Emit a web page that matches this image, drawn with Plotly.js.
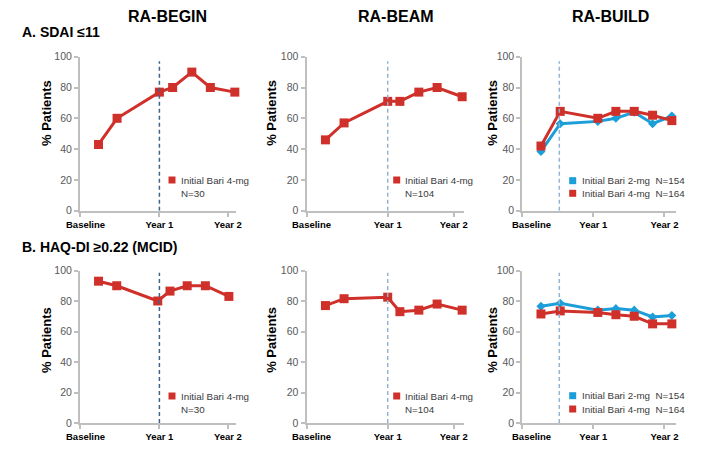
<!DOCTYPE html>
<html>
<head>
<meta charset="utf-8">
<script src="https://cdn.plot.ly/plotly-3.0.1.min.js"></script>
<style>html,body{margin:0;padding:0;background:#fff;}#chart{width:722px;height:467px;}</style>
</head>
<body>
<div id="chart"></div>
<script>
// ---- Data (x in approximate months from baseline) ----
const studies = ["RA-BEGIN", "RA-BEAM", "RA-BUILD"];
const sections = ["A. SDAI \u226411", "B. HAQ-DI \u22650.22 (MCID)"];
const xTickText = ["Baseline", "Year 1", "Year 2"];

const monthsBeginSdai = [2.8, 5.6, 12, 14, 16.9, 19.7, 23.4];
const monthsBeginHaq  = [2.8, 5.55, 11.75, 13.6, 16.2, 18.95, 22.5];
const monthsBeam      = [2.8, 5.55, 12, 13.8, 16.6, 19.3, 23.0];
const monthsBuild     = [3.15, 6.4, 12.75, 15.8, 18.9, 22.0, 25.25];

const beginSdai4mg = [43, 60, 77, 80, 90, 80, 77];
const beamSdai4mg  = [46, 57, 71, 71, 77, 80, 74];
const buildSdai2mg = [38.5, 56.5, 58, 60, 64, 56.5, 61.5];
const buildSdai4mg = [42, 64.5, 60, 64.5, 64.5, 62, 58.5];

const beginHaq4mg = [93, 90, 80, 86.5, 90, 90, 83];
const beamHaq4mg  = [77, 81.5, 82.5, 73, 74, 78, 74];
const buildHaq2mg = [76.5, 78.5, 74, 75, 74, 69.5, 70.5];
const buildHaq4mg = [71.5, 73.5, 72.5, 71, 70, 65, 65];

const year2Tick = [22.35, 21.75, 24];          // per study column
const switchMonth = [12, 12, 6.25];            // dashed reference line per study
const legend4mg = "Initial Bari 4-mg";
const legend2mg = "Initial Bari 2-mg";
const nBegin = "N=30", nBeam = "N=104", nBuild2 = "N=154", nBuild4 = "N=164";

// ---- Styling / layout ----
const W = 722, H = 467;
const RED = "#d0302a", BLUE = "#1c9ed8";
const AXIS_GRAY = "#bfbfbf";
const FONT = "Arial, 'Liberation Sans', sans-serif";
const px = x => x / W, py = y => 1 - y / H;

// column geometry (pixels): axis origin, axis end, x range
const cols = [
  {x0: 80,    x1: 235.5, range: 23.5,  dashColor: "#3f6489", baseC: 85.6},
  {x0: 306.5, x1: 463.5, range: 23.2,  dashColor: "#93b3d3", baseC: 311.3},
  {x0: 522.3, x1: 675.7, range: 25.9,  dashColor: "#93b3d3", baseC: 531.7}
];
const rows = [
  {top: 56.7, bot: 210.7, labY: 224, ytitleY: 113, dashTop: 97},
  {top: 270.5, bot: 423.0, labY: 436.7, ytitleY: 340, dashTop: 98.5}
];

const traces = [];
function line(xs, ys, color, symbol, size, ax) {
  traces.push({
    type: "scatter", mode: "lines+markers", x: xs, y: ys,
    xaxis: "x" + (ax === 1 ? "" : ax), yaxis: "y" + (ax === 1 ? "" : ax),
    line: {color: color, width: 3}, cliponaxis: false,
    marker: {symbol: symbol, size: size, color: color}, showlegend: false, hoverinfo: "x+y"
  });
}
line(monthsBeginSdai, beginSdai4mg, RED, "square", 9, 1);
line(monthsBeam, beamSdai4mg, RED, "square", 9, 2);
line(monthsBuild, buildSdai2mg, BLUE, "diamond", 7, 3);
line(monthsBuild, buildSdai4mg, RED, "square", 9, 3);
line(monthsBeginHaq, beginHaq4mg, RED, "square", 9, 4);
line(monthsBeam, beamHaq4mg, RED, "square", 9, 5);
line(monthsBuild, buildHaq2mg, BLUE, "diamond", 7, 6);
line(monthsBuild, buildHaq4mg, RED, "square", 9, 6);

const layout = {
  width: W, height: H, margin: {l: 0, r: 0, t: 0, b: 0},
  paper_bgcolor: "#fff", plot_bgcolor: "rgba(0,0,0,0)", showlegend: false,
  font: {family: FONT},
  annotations: [], shapes: []
};

for (let r = 0; r < 2; r++) {
  for (let c = 0; c < 3; c++) {
    const i = r * 3 + c + 1;
    const sfx = i === 1 ? "" : String(i);
    const col = cols[c], row = rows[r];
    layout["xaxis" + sfx] = {
      domain: [px(col.x0), px(col.x1)], range: [0, col.range], anchor: "y" + sfx,
      showgrid: false, zeroline: false, showline: true, linecolor: AXIS_GRAY, linewidth: 2,
      ticks: "outside", ticklen: 4, tickwidth: 2, tickcolor: AXIS_GRAY,
      tickvals: [0, 12, year2Tick[c]], ticktext: ["", xTickText[1], xTickText[2]],
      tickfont: {family: FONT, size: 9.5, color: "#000", weight: "bold"}, fixedrange: true
    };
    layout["yaxis" + sfx] = {
      domain: [py(row.bot), py(row.top)], range: [0, 100], anchor: "x" + sfx,
      showgrid: false, zeroline: false, showline: true, linecolor: AXIS_GRAY, linewidth: 2,
      ticks: "outside", ticklen: 4, tickwidth: 2, tickcolor: AXIS_GRAY,
      tickvals: [0, 20, 40, 60, 80, 100],
      tickfont: {family: FONT, size: 10.5, color: "#595959"}, fixedrange: true
    };
    // dashed reference line
    layout.shapes.push({
      type: "line", xref: "x" + sfx, yref: "y" + sfx,
      x0: switchMonth[c], x1: switchMonth[c], y0: 0, y1: row.dashTop,
      line: {color: col.dashColor, width: 1.5, dash: "4px,3px"}
    });
    // Baseline label
    layout.annotations.push({
      xref: "paper", yref: "paper", x: px(col.baseC), y: py(row.labY),
      xanchor: "center", yanchor: "middle", showarrow: false, text: xTickText[0],
      font: {family: FONT, size: 9.5, color: "#000", weight: "bold"}
    });
    // y-axis title
    layout.annotations.push({
      xref: "paper", yref: "paper", x: px([46, 270.8, 491.8][c]), y: py(row.ytitleY),
      xanchor: "center", yanchor: "middle", showarrow: false, textangle: -90,
      text: "% Patients", font: {family: FONT, size: 13, color: "#000", weight: "bold"}
    });
  }
}

// study titles and section labels
const titleX = [167.2, 395.8, 610];
studies.forEach((s, c) => layout.annotations.push({
  xref: "paper", yref: "paper", x: px(titleX[c]), y: py(16.7), xanchor: "center", yanchor: "middle",
  showarrow: false, text: s, font: {family: FONT, size: 16, color: "#000", weight: "bold"}
}));
[[32.3], [246.7]].forEach((yy, k) => layout.annotations.push({
  xref: "paper", yref: "paper", x: px(20), y: py(yy[0]), xanchor: "left", yanchor: "middle",
  showarrow: false, text: sections[k], font: {family: FONT, size: 14, color: "#000", weight: "bold"}
}));

// legends (custom, drawn as key squares + text)
const NB = "\u00a0\u00a0";
const legendRows = [
  // [squareX, textX, rowY, color, text]
  [172, 179.5, 180, RED, legend4mg], [null, 179.5, 193.5, null, nBegin],
  [396.7, 404, 180, RED, legend4mg], [null, 404, 193.5, null, nBeam],
  [572.7, 581, 180.7, BLUE, legend2mg + NB + nBuild2], [572.7, 581, 193.3, RED, legend4mg + NB + nBuild4],
  [172, 179.5, 396, RED, legend4mg], [null, 179.5, 409.5, null, nBegin],
  [396.7, 404, 396, RED, legend4mg], [null, 404, 409.5, null, nBeam],
  [572.7, 581, 395.7, BLUE, legend2mg + NB + nBuild2], [572.7, 581, 409, RED, legend4mg + NB + nBuild4]
];
legendRows.forEach(([sx, tx, ry, colr, txt]) => {
  if (sx !== null) {
    layout.shapes.push({
      type: "rect", xref: "paper", yref: "paper", xsizemode: "pixel", ysizemode: "pixel",
      xanchor: px(sx), yanchor: py(ry), x0: -3.5, x1: 3.5, y0: -3.5, y1: 3.5,
      fillcolor: colr, line: {width: 0}
    });
  }
  layout.annotations.push({
    xref: "paper", yref: "paper", x: px(tx), y: py(ry), xanchor: "left", yanchor: "middle",
    showarrow: false, text: txt, borderpad: 0,
    font: {family: FONT, size: 9.8, color: "#3a3a3a"}
  });
});

Plotly.newPlot("chart", traces, layout, {staticPlot: true, displayModeBar: false});
</script>
</body>
</html>
